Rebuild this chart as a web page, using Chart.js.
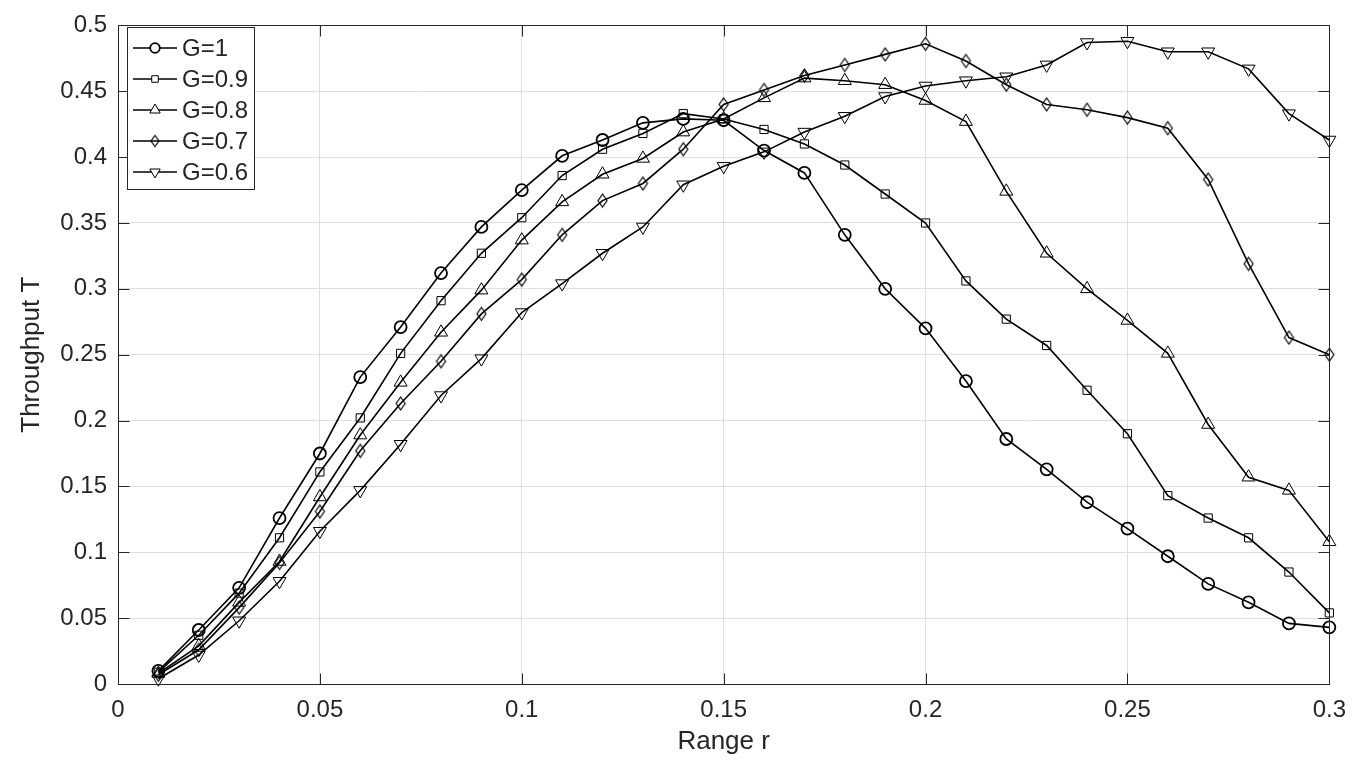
<!DOCTYPE html>
<html>
<head>
<meta charset="utf-8">
<script src="https://cdn.jsdelivr.net/npm/chart.js@4.4.0/dist/chart.umd.min.js"></script>
<style>
  html, body { margin: 0; padding: 0; background: #fff; }
  #wrap { width: 1358px; height: 761px; }
</style>
</head>
<body>
<div id="wrap"><canvas id="throughputChart" width="1358" height="761"></canvas></div>
<script>
// range r on the x axis
const rValues = [0.01, 0.02, 0.03, 0.04, 0.05, 0.06, 0.07, 0.08, 0.09, 0.10,
                 0.11, 0.12, 0.13, 0.14, 0.15, 0.16, 0.17, 0.18, 0.19, 0.20,
                 0.21, 0.22, 0.23, 0.24, 0.25, 0.26, 0.27, 0.28, 0.29, 0.30];

// throughput T, one array per G
const g10 = [0.010, 0.041, 0.073, 0.126, 0.175, 0.233, 0.271, 0.312, 0.347, 0.375,
             0.401, 0.413, 0.426, 0.429, 0.428, 0.405, 0.388, 0.341, 0.300, 0.270,
             0.230, 0.186, 0.163, 0.138, 0.118, 0.097, 0.076, 0.062, 0.046, 0.043];
const g09 = [0.009, 0.037, 0.069, 0.111, 0.161, 0.202, 0.251, 0.291, 0.327, 0.354,
             0.386, 0.406, 0.418, 0.433, 0.429, 0.421, 0.410, 0.394, 0.372, 0.350,
             0.306, 0.277, 0.257, 0.223, 0.190, 0.143, 0.126, 0.111, 0.085, 0.054];
const g08 = [0.008, 0.029, 0.062, 0.093, 0.142, 0.189, 0.229, 0.267, 0.299, 0.337,
             0.366, 0.387, 0.399, 0.419, 0.429, 0.445, 0.460, 0.458, 0.455, 0.443,
             0.427, 0.374, 0.327, 0.300, 0.276, 0.251, 0.197, 0.157, 0.147, 0.108];
const g07 = [0.007, 0.026, 0.058, 0.092, 0.131, 0.177, 0.213, 0.245, 0.281, 0.307,
             0.341, 0.367, 0.380, 0.406, 0.440, 0.451, 0.462, 0.470, 0.478, 0.486,
             0.473, 0.455, 0.440, 0.436, 0.430, 0.422, 0.383, 0.319, 0.263, 0.250];
const g06 = [0.004, 0.022, 0.048, 0.078, 0.116, 0.147, 0.182, 0.219, 0.247, 0.282,
             0.304, 0.327, 0.347, 0.379, 0.393, 0.404, 0.419, 0.431, 0.446, 0.454,
             0.458, 0.461, 0.470, 0.487, 0.488, 0.480, 0.480, 0.467, 0.433, 0.413];

const seriesNames = ['G=1', 'G=0.9', 'G=0.8', 'G=0.7', 'G=0.6'];

const xTickLabels = ['0', '0.05', '0.1', '0.15', '0.2', '0.25', '0.3'];
const yTickLabels = ['0', '0.05', '0.1', '0.15', '0.2', '0.25', '0.3', '0.35', '0.4', '0.45', '0.5'];

const FONT = "'Liberation Sans', Arial, Helvetica, sans-serif";
const TEXT_COLOR = '#262626';

// narrow diamond like matlab's 'd' marker
function makeDiamond(w, h) {
    const c = document.createElement('canvas');
    c.width = w + 4;
    c.height = h + 4;
    const g = c.getContext('2d');
    g.strokeStyle = '#000';
    g.lineWidth = 1.2;
    g.beginPath();
    g.moveTo(2 + w / 2, 2);
    g.lineTo(2 + w, 2 + h / 2);
    g.lineTo(2 + w / 2, 2 + h);
    g.lineTo(2, 2 + h / 2);
    g.closePath();
    g.stroke();
    return c;
}
const diamond = makeDiamond(9, 13);
const diamondSmall = makeDiamond(8, 11);

const markerStyles = [
    { pointStyle: 'circle', pointRadius: 6, pointBorderWidth: 1.8, pointRotation: 0 },
    { pointStyle: 'rect', pointRadius: 5.8, pointBorderWidth: 1, pointRotation: 0 },
    { pointStyle: 'triangle', pointRadius: 7.5, pointBorderWidth: 1, pointRotation: 0 },
    { pointStyle: diamond, pointRadius: 6, pointBorderWidth: 1, pointRotation: 0 },
    { pointStyle: 'triangle', pointRadius: 7.5, pointBorderWidth: 1, pointRotation: 180 },
];

function makeDataset(i, values) {
    return Object.assign({
        label: seriesNames[i],
        data: rValues.map((r, k) => ({ x: r, y: values[k] })),
        borderColor: '#000',
        borderWidth: 1.6,
        pointBorderColor: '#000',
        pointBackgroundColor: 'rgba(0,0,0,0)',
        tension: 0,
        clip: false,
    }, markerStyles[i]);
}

// box, inward ticks and the legend, drawn the matlab way
const frameAndLegend = {
    id: 'frameAndLegend',
    afterDatasetsDraw(chart) {
        const { ctx, chartArea: a, scales } = chart;
        ctx.save();
        ctx.strokeStyle = TEXT_COLOR;
        ctx.lineWidth = 1;
        const L = Math.round(a.left) + 0.5, R = Math.round(a.right) + 0.5;
        const T = Math.round(a.top) + 0.5, B = Math.round(a.bottom) + 0.5;
        ctx.strokeRect(L, T, R - L, B - T);

        const tickLen = 11;
        ctx.beginPath();
        scales.x.ticks.forEach(t => {
            const px = Math.round(scales.x.getPixelForValue(t.value)) + 0.5;
            ctx.moveTo(px, B); ctx.lineTo(px, B - tickLen);
            ctx.moveTo(px, T); ctx.lineTo(px, T + tickLen);
        });
        scales.y.ticks.forEach(t => {
            const py = Math.round(scales.y.getPixelForValue(t.value)) + 0.5;
            ctx.moveTo(L, py); ctx.lineTo(L + tickLen, py);
            ctx.moveTo(R, py); ctx.lineTo(R - tickLen, py);
        });
        ctx.stroke();

        // legend box
        const bx = 127.5, by = 27.5, bw = 127, bh = 162;
        ctx.fillStyle = '#fff';
        ctx.fillRect(bx, by, bw, bh);
        ctx.strokeStyle = TEXT_COLOR;
        ctx.strokeRect(bx, by, bw, bh);

        ctx.font = '24px ' + FONT;
        ctx.textBaseline = 'middle';
        ctx.textAlign = 'left';
        chart.data.datasets.forEach((ds, i) => {
            const y = 48 + i * 31;
            ctx.strokeStyle = '#000';
            ctx.lineWidth = 1.6;
            ctx.beginPath();
            ctx.moveTo(133, y);
            ctx.lineTo(177, y);
            ctx.stroke();
            ctx.fillStyle = '#fff';
            ctx.lineWidth = ds.pointBorderWidth;
            Chart.helpers.drawPoint(ctx, {
                pointStyle: ds.pointStyle === diamond ? diamondSmall : ds.pointStyle,
                radius: ds.pointRadius * 0.8,
                rotation: ds.pointRotation,
                borderWidth: ds.pointBorderWidth,
            }, 155, y);
            ctx.fillStyle = TEXT_COLOR;
            ctx.fillText(ds.label, 182, y + 1);
        });
        ctx.restore();
    }
};

const ctx = document.getElementById('throughputChart');
new Chart(ctx, {
    type: 'line',
    data: {
        datasets: [
            makeDataset(0, g10),
            makeDataset(1, g09),
            makeDataset(2, g08),
            makeDataset(3, g07),
            makeDataset(4, g06),
        ]
    },
    options: {
        responsive: false,
        animation: false,
        devicePixelRatio: 1,
        events: [],
        layout: { padding: { top: 15, right: 28, left: 0, bottom: 0 } },
        plugins: {
            legend: { display: false },
            tooltip: { enabled: false },
        },
        scales: {
            x: {
                type: 'linear',
                min: 0,
                max: 0.3,
                afterFit(scale) { scale.height = 77; },
                ticks: {
                    stepSize: 0.05,
                    color: TEXT_COLOR,
                    font: { family: FONT, size: 24 },
                    padding: 12,
                    maxRotation: 0,
                    callback: (v, i) => xTickLabels[i],
                },
                grid: { color: '#dfdfdf', drawTicks: false },
                border: { display: false },
                title: {
                    display: true,
                    text: 'Range r',
                    color: TEXT_COLOR,
                    font: { family: FONT, size: 26 },
                    padding: { top: 0, bottom: 4 },
                },
            },
            y: {
                type: 'linear',
                min: 0,
                max: 0.5,
                afterFit(scale) { scale.width = 118; },
                ticks: {
                    stepSize: 0.05,
                    color: TEXT_COLOR,
                    font: { family: FONT, size: 24 },
                    padding: 11,
                    callback: (v, i) => yTickLabels[i],
                },
                grid: { color: '#dfdfdf', drawTicks: false },
                border: { display: false },
                title: {
                    display: true,
                    text: 'Throughput T',
                    color: TEXT_COLOR,
                    font: { family: FONT, size: 26 },
                    padding: { top: 16, bottom: 0 },
                },
            },
        },
    },
    plugins: [frameAndLegend],
});
</script>
</body>
</html>
